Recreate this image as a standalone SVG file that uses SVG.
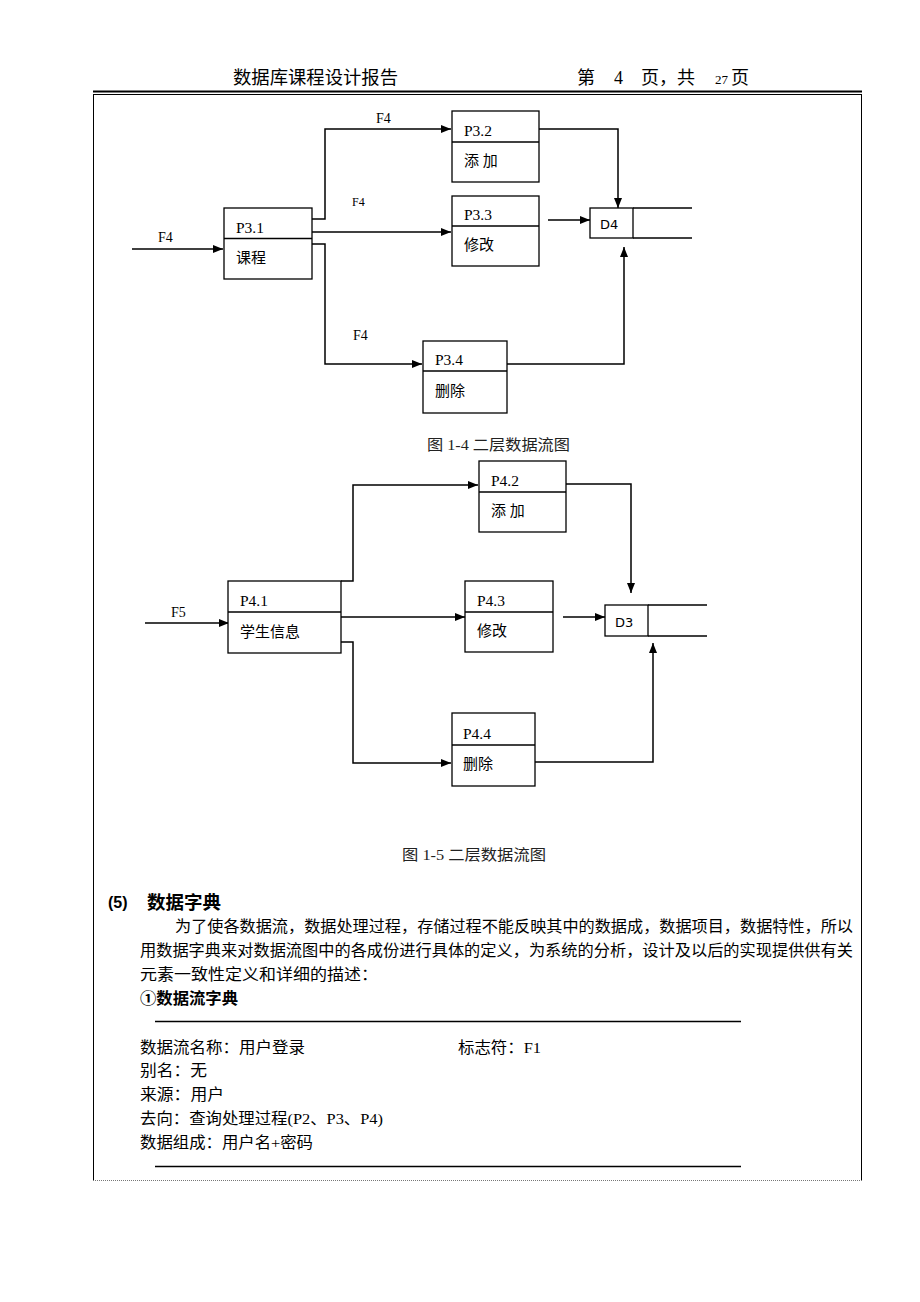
<svg xmlns="http://www.w3.org/2000/svg" width="920" height="1302" viewBox="0 0 920 1302">
<defs>
<marker id="ah" viewBox="0 0 10 8" refX="10" refY="4" markerWidth="10" markerHeight="8" markerUnits="userSpaceOnUse" orient="auto">
<path d="M0,0 L10,4 L0,8 z" fill="#000"/>
</marker>
</defs>
<style>
.box{fill:#fff;stroke:#000;stroke-width:1.3}
.div{stroke:#000;stroke-width:1.3}
.ln{fill:none;stroke:#000;stroke-width:1.5}
.ar{fill:none;stroke:#000;stroke-width:1.5;marker-end:url(#ah)}
.id{font-family:"Liberation Serif",serif;font-size:15.5px;fill:#000}
.nm{font-family:"Liberation Serif","Noto Sans CJK SC",serif;font-size:15px;fill:#000}
.ds{font-family:"DejaVu Sans","Liberation Sans",sans-serif;font-size:13px;fill:#000}
.lb{font-family:"Liberation Serif",serif;font-size:14px;fill:#000}
.lbs{font-family:"Liberation Serif",serif;font-size:12px;fill:#000}
.cap{font-family:"Liberation Serif","Noto Sans CJK SC",serif;font-size:15px;fill:#222}
.tx{font-family:"Liberation Serif","Noto Sans CJK SC",serif;font-size:15.5px;fill:#000}
.bd{font-family:"Liberation Sans","Noto Sans CJK SC",sans-serif;font-weight:bold;fill:#000}
.hd{font-family:"Liberation Serif","Noto Sans CJK SC",serif;fill:#000}
</style>
<rect x="0" y="0" width="920" height="1302" fill="#fff"/>
<g id="header">
<text class="hd" x="233" y="84" style="font-size:18px" textLength="165" lengthAdjust="spacingAndGlyphs">数据库课程设计报告</text>
<text class="hd" x="577" y="84" style="font-size:18px">第</text>
<text class="hd" x="614" y="84" style="font-size:18px">4</text>
<text class="hd" x="641" y="84" style="font-size:18px">页，共</text>
<text class="hd" x="715" y="84" style="font-size:13px">27</text>
<text class="hd" x="731" y="84" style="font-size:18px">页</text>
<line x1="93" y1="91.5" x2="862" y2="91.5" stroke="#000" stroke-width="2"/>
<line x1="93" y1="94.5" x2="862" y2="94.5" stroke="#000" stroke-width="1"/>
<line x1="93.5" y1="95" x2="93.5" y2="1180" stroke="#000" stroke-width="1"/>
<line x1="861.5" y1="95" x2="861.5" y2="1180" stroke="#000" stroke-width="1"/>
<line x1="93" y1="1180.5" x2="862" y2="1180.5" stroke="#777" stroke-width="1" stroke-dasharray="1,1"/>
</g>
<g id="connectors">
<line class="ar" x1="132" y1="249" x2="223" y2="249"/>
<polyline class="ar" points="312,219 325,219 325,129 451,129"/>
<line class="ar" x1="312" y1="232" x2="451" y2="232"/>
<polyline class="ar" points="312,244 325,244 325,364 422,364"/>
<polyline class="ar" points="539,129 618,129 618,208"/>
<line class="ar" x1="548" y1="220" x2="590" y2="220"/>
<polyline class="ar" points="507,364 624,364 624,247"/>
<line class="ar" x1="145" y1="623" x2="229" y2="623"/>
<polyline class="ar" points="341,581 353,581 353,485 478,485"/>
<line class="ar" x1="341" y1="617" x2="465" y2="617"/>
<polyline class="ar" points="341,642 353,642 353,763 451,763"/>
<polyline class="ar" points="566,484 631,484 631,593"/>
<line class="ar" x1="563" y1="617" x2="605" y2="617"/>
<polyline class="ar" points="535,762 653,762 653,643"/>
</g>
<g id="labels">
<text class="lb" x="158" y="242">F4</text>
<text class="lb" x="376" y="123">F4</text>
<text class="lbs" x="352" y="206">F4</text>
<text class="lb" x="353" y="340">F4</text>
<text class="lb" x="171" y="617">F5</text>
</g>
<g id="P3.1">
<rect class="box" x="224" y="208" width="88" height="71"/>
<line class="div" x1="224" y1="238.5" x2="312" y2="238.5"/>
<text class="id" x="236" y="233">P3.1</text>
<text class="nm" x="236" y="263">课程</text>
</g>
<g id="P3.2">
<rect class="box" x="452" y="111" width="87" height="71"/>
<line class="div" x1="452" y1="142" x2="539" y2="142"/>
<text class="id" x="464" y="136">P3.2</text>
<text class="nm" x="464" y="166">添 加</text>
</g>
<g id="P3.3">
<rect class="box" x="452" y="196" width="87" height="70"/>
<line class="div" x1="452" y1="226" x2="539" y2="226"/>
<text class="id" x="464" y="220">P3.3</text>
<text class="nm" x="464" y="250">修改</text>
</g>
<g id="D4">
<rect class="box" x="590" y="208" width="43" height="30"/>
<line class="div" x1="633" y1="208" x2="692" y2="208"/>
<line class="div" x1="633" y1="238" x2="692" y2="238"/>
<text class="ds" x="600" y="229">D4</text>
</g>
<g id="P3.4">
<rect class="box" x="423" y="341" width="84" height="72"/>
<line class="div" x1="423" y1="371" x2="507" y2="371"/>
<text class="id" x="435" y="365">P3.4</text>
<text class="nm" x="435" y="396">删除</text>
</g>
<g id="caption1">
<text class="cap" x="427" y="450" textLength="143" lengthAdjust="spacingAndGlyphs">图 1-4 二层数据流图</text>
</g>
<g id="P4.1">
<rect class="box" x="228" y="581" width="113" height="72"/>
<line class="div" x1="228" y1="612" x2="341" y2="612"/>
<text class="id" x="240" y="606">P4.1</text>
<text class="nm" x="240" y="637">学生信息</text>
</g>
<g id="P4.2">
<rect class="box" x="479" y="461" width="87" height="71"/>
<line class="div" x1="479" y1="492" x2="566" y2="492"/>
<text class="id" x="491" y="486">P4.2</text>
<text class="nm" x="491" y="516">添 加</text>
</g>
<g id="P4.3">
<rect class="box" x="465" y="581" width="88" height="71"/>
<line class="div" x1="465" y1="612" x2="553" y2="612"/>
<text class="id" x="477" y="606">P4.3</text>
<text class="nm" x="477" y="636">修改</text>
</g>
<g id="D3">
<rect class="box" x="605" y="605" width="43" height="31"/>
<line class="div" x1="648" y1="605" x2="707" y2="605"/>
<line class="div" x1="648" y1="636" x2="707" y2="636"/>
<text class="ds" x="615" y="627">D3</text>
</g>
<g id="P4.4">
<rect class="box" x="452" y="713" width="83" height="73"/>
<line class="div" x1="452" y1="745" x2="535" y2="745"/>
<text class="id" x="463" y="739">P4.4</text>
<text class="nm" x="463" y="769">删除</text>
</g>
<g id="caption2">
<text class="cap" x="402" y="860" textLength="144" lengthAdjust="spacingAndGlyphs">图 1-5 二层数据流图</text>
</g>
<g id="dictionary">
<text class="bd" x="108" y="908" style="font-size:16px">(5)</text>
<text class="bd" x="147" y="909" style="font-size:18.5px">数据字典</text>
<text class="tx" x="175" y="932" textLength="678" lengthAdjust="spacingAndGlyphs">为了使各数据流，数据处理过程，存储过程不能反映其中的数据成，数据项目，数据特性，所以</text>
<text class="tx" x="140" y="956" textLength="713" lengthAdjust="spacingAndGlyphs">用数据字典来对数据流图中的各成份进行具体的定义，为系统的分析，设计及以后的实现提供供有关</text>
<text class="tx" x="140" y="980" textLength="238" lengthAdjust="spacingAndGlyphs">元素一致性定义和详细的描述：</text>
<text class="bd" x="140" y="1004" style="font-size:16px" textLength="98" lengthAdjust="spacingAndGlyphs">①数据流字典</text>
<line x1="155" y1="1021.5" x2="741" y2="1021.5" stroke="#000" stroke-width="1.3"/>
<text class="tx" x="140" y="1053" textLength="165" lengthAdjust="spacingAndGlyphs">数据流名称：用户登录</text>
<text class="tx" x="458" y="1053" textLength="83" lengthAdjust="spacingAndGlyphs">标志符：F1</text>
<text class="tx" x="140" y="1076" textLength="67" lengthAdjust="spacingAndGlyphs">别名：无</text>
<text class="tx" x="140" y="1100" textLength="84" lengthAdjust="spacingAndGlyphs">来源：用户</text>
<text class="tx" x="140" y="1124" textLength="243" lengthAdjust="spacingAndGlyphs">去向：查询处理过程(P2、P3、P4)</text>
<text class="tx" x="140" y="1148" textLength="173" lengthAdjust="spacingAndGlyphs">数据组成：用户名+密码</text>
<line x1="155" y1="1166.5" x2="741" y2="1166.5" stroke="#000" stroke-width="1.3"/>
</g>
</svg>
